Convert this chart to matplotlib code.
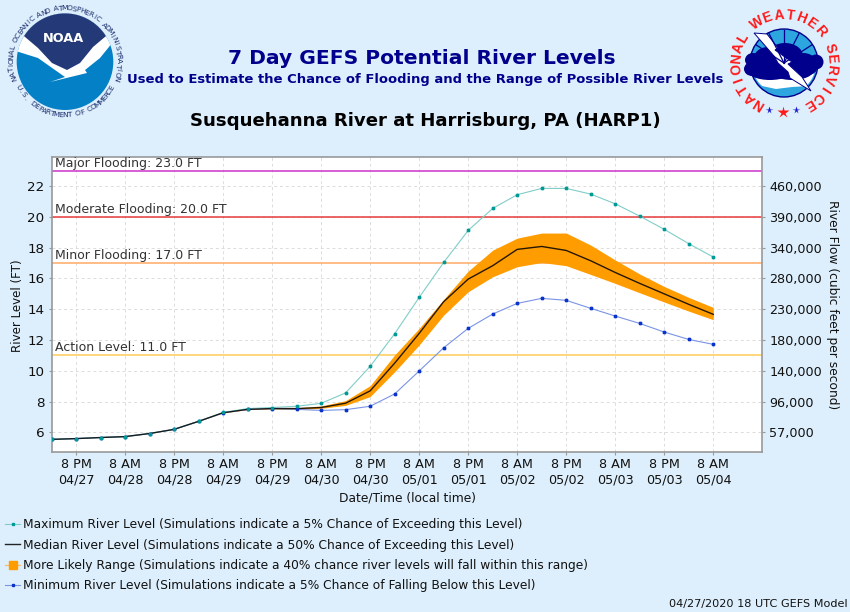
import numpy as np
import matplotlib
matplotlib.use("Agg")
import matplotlib.pyplot as plt
from matplotlib.patches import Circle, Ellipse, Polygon

BG = "#ddeffc"
tick_labels = ["8 PM\n04/27", "8 AM\n04/28", "8 PM\n04/28", "8 AM\n04/29", "8 PM\n04/29", "8 AM\n04/30", "8 PM\n04/30",
               "8 AM\n05/01", "8 PM\n05/01", "8 AM\n05/02", "8 PM\n05/02", "8 AM\n05/03", "8 PM\n05/03", "8 AM\n05/04"]
hours = np.arange(28) * 6 - 6  # hours since 8 PM 04/27
maximum = [5.55, 5.6, 5.67, 5.73, 5.93, 6.2, 6.72, 7.3, 7.55, 7.62, 7.7, 7.89, 8.57, 10.29,
           12.41, 14.77, 17.04, 19.12, 20.55, 21.44, 21.85, 21.85, 21.48, 20.85, 20.05, 19.19, 18.26, 17.39]
median = [5.55, 5.6, 5.67, 5.73, 5.93, 6.2, 6.72, 7.28, 7.5, 7.55, 7.55, 7.62, 7.9, 8.7,
          10.5, 12.43, 14.49, 15.96, 16.83, 17.89, 18.08, 17.82, 17.15, 16.39, 15.68, 15.0, 14.32, 13.67]
upper = [5.55, 5.6, 5.67, 5.73, 5.93, 6.2, 6.72, 7.29, 7.52, 7.58, 7.6, 7.72, 8.07, 9.04,
         11.03, 12.76, 14.64, 16.48, 17.84, 18.62, 18.95, 18.95, 18.17, 17.2, 16.29, 15.48, 14.77, 14.12]
lower = [5.55, 5.6, 5.67, 5.73, 5.93, 6.2, 6.72, 7.27, 7.48, 7.53, 7.5, 7.57, 7.76, 8.33,
         9.94, 11.68, 13.62, 15.14, 16.11, 16.76, 17.04, 16.83, 16.26, 15.68, 15.07, 14.47, 13.88, 13.32]
minimum = [5.55, 5.6, 5.67, 5.73, 5.93, 6.2, 6.72, 7.27, 7.5, 7.55, 7.5, 7.43, 7.48, 7.7,
           8.5, 9.99, 11.5, 12.76, 13.69, 14.38, 14.71, 14.58, 14.06, 13.56, 13.08, 12.52, 12.04, 11.72]
left_ticks = [6, 8, 10, 12, 14, 16, 18, 20, 22]
flow_labels = ["57,000", "96,000", "140,000", "180,000", "230,000", "280,000", "340,000", "390,000", "460,000"]
flood_levels = [23.0, 20.0, 17.0, 11.0]
flood_names = ["Major Flooding: 23.0 FT", "Moderate Flooding: 20.0 FT", "Minor Flooding: 17.0 FT", "Action Level: 11.0 FT"]
flood_colors = ["#cc33cc", "#e83a3a", "#ffaa66", "#ffcc55"]
legend_labels = ["Maximum River Level (Simulations indicate a 5% Chance of Exceeding this Level)",
                 "Median River Level (Simulations indicate a 50% Chance of Exceeding this Level)",
                 "More Likely Range (Simulations indicate a 40% chance river levels will fall within this range)",
                 "Minimum River Level (Simulations indicate a 5% Chance of Falling Below this Level)"]

W, H = 850, 612
fig = plt.figure(figsize=(8.5, 6.12), dpi=100, facecolor=BG)
L, R, T, B = 51.5, 762.3, 157, 452
ax = fig.add_axes([L / W, 1 - B / H, (R - L) / W, (B - T) / H], facecolor="white")
ax.set_xlim(-6, 168)
ax.set_ylim(4.73, 23.89)

ax.grid(True, color="#dcdcdc", ls=(0, (3, 3)), lw=0.7)
ax.set_axisbelow(True)
ax.set_xticks(np.arange(14) * 12, tick_labels)
ax.set_yticks(left_ticks)
ax.tick_params(labelsize=9.2, length=2, width=0.8, color="#999999", pad=2.5, labelcolor="#111111")
ax.tick_params(axis="y", labelsize=9.7, pad=3)
for s in ax.spines.values():
    s.set_color("#999999"); s.set_linewidth(1.2)

for lv, nm, c in zip(flood_levels, flood_names, flood_colors):
    ax.axhline(lv, color=c, lw=1.1, zorder=2)
    ax.annotate(nm, (0, lv), xycoords=("axes fraction", "data"), xytext=(2.5, 0.7), textcoords="offset points",
                fontsize=9, color="#333333", va="bottom", ha="left", zorder=6)

ax.fill_between(hours, lower, upper, color="#ff9c00", lw=0, zorder=3)
h_min, = ax.plot(hours, minimum, color="#7a94e6", lw=0.8, marker="s", ms=2.0, mfc="#0a33cc", mec="#0a33cc", zorder=4)
h_max, = ax.plot(hours, maximum, color="#80cdc8", lw=0.8, marker="s", ms=2.0, mfc="#009a96", mec="#009a96", zorder=4.1)
h_med, = ax.plot(hours, median, color="#000000", lw=1.0, alpha=0.85, zorder=5)
ax.plot(hours, minimum, ls="none", marker="s", ms=2.0, mfc="#0a33cc", mec="#0a33cc", zorder=5.5)
ax.plot(hours, maximum, ls="none", marker="s", ms=2.0, mfc="#009a96", mec="#009a96", zorder=5.6)

ax2 = ax.twinx()
ax2.set_ylim(ax.get_ylim())
ax2.set_yticks(left_ticks, flow_labels)
ax2.tick_params(labelsize=9.2, length=2, width=0.8, color="#999999", pad=3, labelcolor="#111111")
for s in ax2.spines.values():
    s.set_visible(False)

fig.text(17.5 / W, 1 - 306 / H, "River Level (FT)", rotation=90, fontsize=8.6, ha="center", va="center", color="#111111")
fig.text(832 / W, 1 - 304.5 / H, "River Flow (cubic feet per second)", rotation=270, fontsize=8.85, ha="center", va="center", color="#111111")
fig.text(407.5 / W, 1 - 498 / H, "Date/Time (local time)", fontsize=8.8, ha="center", va="center", color="#111111")

band_h, = ax.plot([], [], color="#ffb866", lw=0.9, marker="s", ms=5.5, mfc="#ff9c00", mec="#ff9c00")
fig.legend([h_max, h_med, band_h, h_min], legend_labels, loc="upper left",
           bbox_to_anchor=(2.6 / W, 1 - 516 / H), frameon=False, fontsize=8.83, handlelength=1.22, handletextpad=0.25,
           labelspacing=0.59, borderaxespad=0, borderpad=0.2, markerscale=1, labelcolor="#111111")

navy = "#00008c"
fig.text(422 / W, 1 - 59 / H, "7 Day GEFS Potential River Levels", fontsize=14.6, fontweight="bold", color=navy, ha="center", va="center")
fig.text(425 / W, 1 - 80 / H, "Used to Estimate the Chance of Flooding and the Range of Possible River Levels", fontsize=9.46, fontweight="bold", color=navy, ha="center", va="center")
fig.text(425.5 / W, 1 - 121 / H, "Susquehanna River at Harrisburg, PA (HARP1)", fontsize=13.05, fontweight="bold", color="black", ha="center", va="center")
fig.text(848 / W, 1 - 604 / H, "04/27/2020 18 UTC GEFS Model", fontsize=8.08, color="#111111", ha="right", va="center")

# logos in pixel coordinates
ov = fig.add_axes([0, 0, 1, 1], facecolor="none")
ov.set_xlim(0, W); ov.set_ylim(H, 0); ov.axis("off")


def ring_text(text, cx, cy, r, a0, a1, **kw):
    """a in degrees clockwise from 12 o'clock; bottom=True flips the glyphs"""
    bottom = kw.pop("bottom", False)
    for ch, a in zip(text, np.linspace(a0, a1, len(text))):
        t = np.radians(a)
        x, y = cx + r * np.sin(t), cy - r * np.cos(t)
        rot = -a if not bottom else 180 - a
        ov.text(x, y, ch, rotation=rot, rotation_mode="anchor", ha="center", va="center", **kw)


# NOAA
cx, cy, r = 65, 61.7, 48.3
ov.add_patch(Circle((cx, cy), r, fc="#0480c6", ec="none"))
t_top = np.radians(np.linspace(192, 340, 40))
ov.add_patch(Polygon([(cx + r * np.cos(t), cy + r * np.sin(t)) for t in t_top]
                     + [(100, 58), (85, 70), (87, 73), (50, 82), (65, 77), (55, 70), (38, 58)], fc="white", ec="none"))
arc = [(cx + r * np.cos(t), cy + r * np.sin(t)) for t in np.radians(np.linspace(212, 328, 40))]
ov.add_patch(Polygon(arc + [(93, 47), (80, 63), (67, 70), (52, 63), (38, 48)], fc="#243a78", ec="none"))
ov.text(64, 38.5, "NOAA", color="white", fontsize=9.3, fontweight="bold", ha="center", va="center")
ring_text("NATIONAL OCEANIC AND ATMOSPHERIC ADMINISTRATION", cx, cy, 53.5, -108, 108, fontsize=5.4, color="#1c2f70")
ring_text("U.S. DEPARTMENT OF COMMERCE", cx, cy, 53.5, 241, 119, fontsize=5.4, color="#1c2f70", bottom=True)

# NWS
cx, cy = 784, 63
ov.add_patch(Circle((cx, cy), 34, fc="#2da5df", ec="none"))
for a in (-57, -27, 0, 27, 57):
    t = np.radians(a)
    ov.plot([cx, cx + 33 * np.sin(t)], [cy, cy - 33 * np.cos(t)], color="#00008c", lw=0.9)
ov.add_patch(Polygon([(cx + 32 * np.cos(t), cy + 32 * np.sin(t)) for t in np.radians(np.linspace(-5, 185, 40))], fc="white", ec="none"))
t3 = np.radians(np.linspace(28, 152, 30))
ov.add_patch(Polygon([(cx + 34 * np.cos(t), cy + 34 * np.sin(t)) for t in t3]
                     + [(cx - 22, cy + 23), (cx - 8, cy + 26), (cx + 8, cy + 24), (cx + 24, cy + 23)], fc="#2da5df", ec="none"))
ov.add_patch(Circle((cx, cy), 34, fc="none", ec="#00008c", lw=1))
for (ex, ey, ew, eh) in [(753, 60, 16, 14), (752, 69, 16, 14), (768, 58, 28, 22), (785, 56, 36, 26), (803, 62, 26, 18),
                         (816, 62, 15, 15), (770, 70, 46, 20), (792, 70, 44, 20), (808, 68, 18, 14)]:
    ov.add_patch(Ellipse((ex, ey), ew, eh, fc="#00008c", ec="none"))
bolt = [(754, 33), (767, 34), (778, 48), (775, 50), (792, 62), (788, 64), (802, 77), (811, 91), (790, 78), (788, 72), (778, 63), (774, 56)]
ov.add_patch(Polygon(bolt, fc="white", ec="#00008c", lw=0.7))
rk = dict(fontsize=10, fontweight="bold", color="#ff1a1a", family="Liberation Sans")
ring_text("NATIONAL", cx, cy, 48, -148, -59, **rk)
ring_text("WEATHER", cx, cy, 48, -34, 49, **rk)
ring_text("SERVICE", cx, cy, 48, 72, 148, **rk)
ov.plot([783], [112], marker="*", ms=9, color="#ff1a1a", mec="none")
ov.plot([769.5, 796.5], [110, 110], ls="none", marker="*", ms=5.5, color="#1a1acc", mec="none")

fig.savefig("out.png", dpi=100, facecolor=BG)
